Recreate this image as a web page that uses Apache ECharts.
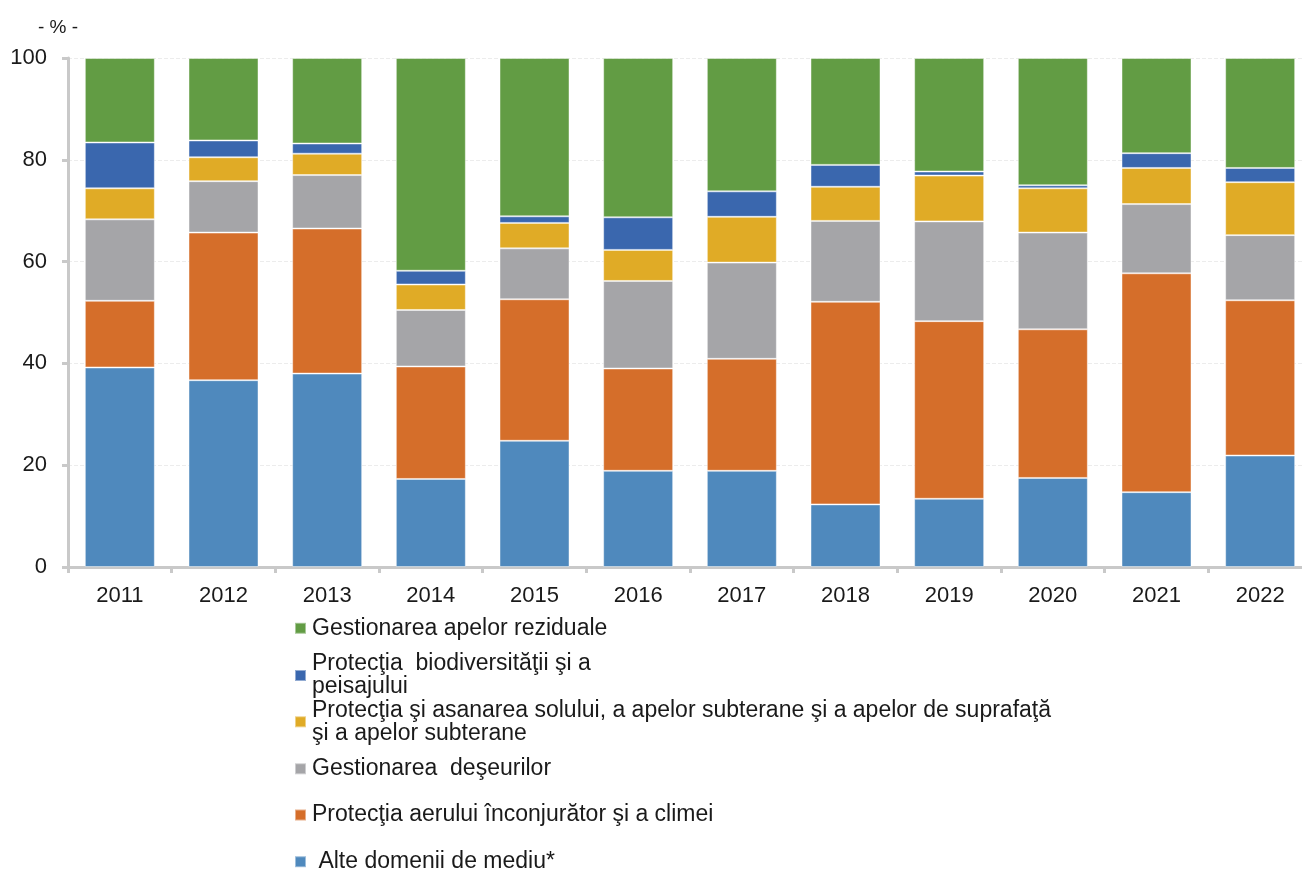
<!DOCTYPE html>
<html>
<head>
<meta charset="utf-8">
<script src="https://cdn.jsdelivr.net/npm/echarts@6/dist/echarts.min.js"></script>
<style>
  html, body { margin: 0; padding: 0; background: #fff; }
  #main { width: 1302px; height: 871px; }
</style>
</head>
<body>
<div id="main"></div>
<script>
const years = ['2011', '2012', '2013', '2014', '2015', '2016', '2017', '2018', '2019', '2020', '2021', '2022']
const yTicks = [0, 20, 40, 60, 80, 100]

// stacked from the bottom up
const alteDomenii = [39.2, 36.7, 38.0, 17.3, 24.8, 18.9, 18.9, 12.3, 13.4, 17.5, 14.7, 21.9]
const aerClima = [13.1, 29.0, 28.5, 22.1, 27.8, 20.1, 22.0, 39.8, 34.9, 29.2, 43.0, 30.5]
const deseuri = [16.0, 10.1, 10.5, 11.1, 10.0, 17.2, 18.9, 15.9, 19.6, 19.0, 13.6, 12.8]
const solApe = [6.1, 4.7, 4.2, 5.0, 5.0, 6.1, 9.0, 6.7, 9.0, 8.7, 7.1, 10.4]
const biodiversitate = [9.0, 3.3, 2.0, 2.7, 1.3, 6.4, 5.0, 4.3, 0.8, 0.6, 2.9, 2.8]
const apeReziduale = [16.6, 16.2, 16.8, 41.8, 31.1, 31.3, 26.2, 21.0, 22.3, 25.0, 18.7, 21.6]

const names = {
  ape: 'Gestionarea apelor reziduale',
  bio: 'Protecţia  biodiversităţii şi a peisajului',
  sol: 'Protecţia şi asanarea solului, a apelor subterane şi a apelor de suprafaţă şi a apelor subterane',
  des: 'Gestionarea  deşeurilor',
  aer: 'Protecţia aerului înconjurător şi a climei',
  alte: ' Alte domenii de mediu*'
}
const labels = {}
labels[names.bio] = 'Protecţia  biodiversităţii şi a\npeisajului'
labels[names.sol] = 'Protecţia şi asanarea solului, a apelor subterane şi a apelor de suprafaţă\nşi a apelor subterane'

const colors = {
  alte: '#4f89bd',
  aer: '#d56e2a',
  des: '#a5a5a8',
  sol: '#e0ab26',
  bio: '#3a67ae',
  ape: '#629c44'
}

const font = '"Liberation Sans", Arial, sans-serif'

function bar(key, data) {
  return {
    name: names[key],
    type: 'bar',
    stack: 'total',
    barWidth: 70,
    data: data,
    itemStyle: { color: colors[key], borderColor: 'rgba(255,255,255,0.45)', borderWidth: 1 }
  }
}

// one legend per entry so that the vertical spacing can follow the picture
const legendOrder = ['ape', 'bio', 'sol', 'des', 'aer', 'alte']
const legendCenters = [628.3, 675.5, 721.8, 768.8, 815, 861.7]
const lineH = 23
const legends = legendOrder.map((key, i) => {
  const twoLines = !!labels[names[key]]
  const half = twoLines ? lineH * 1.5 : lineH / 2
  return {
    data: [names[key]],
    left: 294,
    top: legendCenters[i] - half,
    orient: 'vertical',
    padding: 0,
    itemWidth: 11,
    itemHeight: 11,
    itemGap: 0,
    icon: 'rect',
    selectedMode: false,
    formatter: name => labels[name] || name,
    textStyle: {
      fontFamily: font,
      fontSize: 23,
      lineHeight: lineH,
      color: '#1a1a1a',
      padding: twoLines ? [lineH, 0, 0, 1] : [0, 0, 0, 1]
    }
  }
})

const chart = echarts.init(document.getElementById('main'))
const option = {
  animation: false,
  backgroundColor: '#fff',
  title: {
    text: '- % -',
    left: 33,
    top: 13,
    textStyle: { fontFamily: font, fontSize: 19, fontWeight: 'normal', color: '#1a1a1a' }
  },
  legend: legends,
  // the last category runs a little past the right edge of the picture
  grid: { left: 68, width: 1244, top: 58, bottom: 304, outerBoundsMode: 'none' },
  xAxis: {
    type: 'category',
    data: years,
    axisLine: { lineStyle: { color: '#c9c9c9', width: 3 } },
    axisTick: { show: true, length: 6, lineStyle: { color: '#c9c9c9', width: 3 } },
    axisLabel: { fontFamily: font, fontSize: 22, color: '#1a1a1a', margin: 18 }
  },
  yAxis: {
    type: 'value',
    min: yTicks[0],
    max: yTicks[yTicks.length - 1],
    interval: yTicks[1] - yTicks[0],
    axisLine: { show: true, lineStyle: { color: '#c9c9c9', width: 3 } },
    axisTick: { show: true, length: 6, lineStyle: { color: '#c9c9c9', width: 3 } },
    axisLabel: { fontFamily: font, fontSize: 22, color: '#1a1a1a', margin: 21 },
    splitLine: { lineStyle: { color: '#ececec', type: 'dashed', width: 1 } }
  },
  series: [
    bar('alte', alteDomenii),
    bar('aer', aerClima),
    bar('des', deseuri),
    bar('sol', solApe),
    bar('bio', biodiversitate),
    bar('ape', apeReziduale)
  ]
}
chart.setOption(option)
</script>
</body>
</html>
